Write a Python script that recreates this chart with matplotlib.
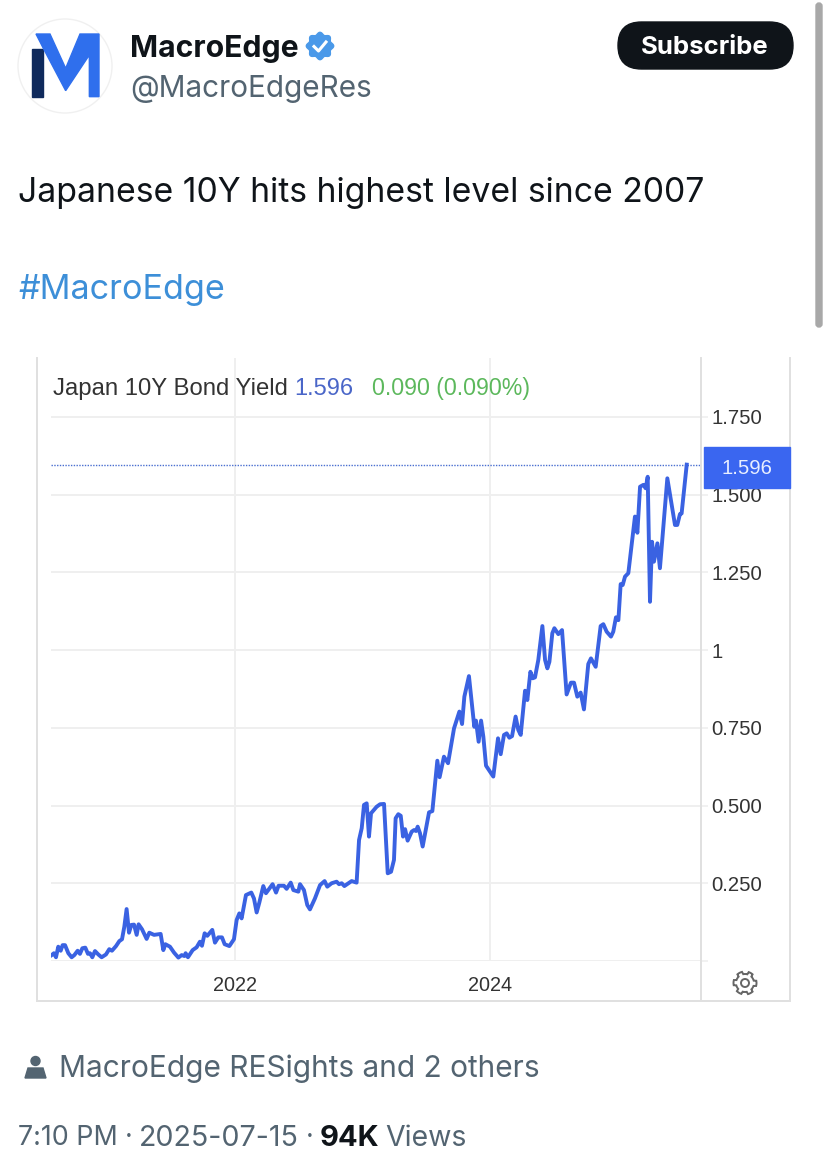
import numpy as np
import matplotlib
matplotlib.use('Agg')
import matplotlib.pyplot as plt
from matplotlib.patches import Circle, Polygon, Rectangle, FancyBboxPatch

# values (decimal year, yield in %)
years = [2020.562, 2020.580, 2020.596, 2020.614, 2020.633, 2020.648, 2020.667, 2020.693, 2020.719, 2020.740,
         2020.766, 2020.784, 2020.803, 2020.826, 2020.847, 2020.863, 2020.881, 2020.902, 2020.928, 2020.954,
         2020.988, 2021.014, 2021.035, 2021.067, 2021.093, 2021.114, 2021.132, 2021.150, 2021.169, 2021.187,
         2021.208, 2021.229, 2021.244, 2021.271, 2021.307, 2021.328, 2021.365, 2021.417, 2021.438, 2021.454,
         2021.490, 2021.522, 2021.556, 2021.582, 2021.603, 2021.613, 2021.631, 2021.668, 2021.699, 2021.725,
         2021.741, 2021.762, 2021.783, 2021.822, 2021.843, 2021.869, 2021.898, 2021.919, 2021.956, 2021.992,
         2022.013, 2022.034, 2022.052, 2022.086, 2022.128, 2022.149, 2022.170, 2022.191, 2022.222, 2022.243,
         2022.295, 2022.322, 2022.342, 2022.384, 2022.405, 2022.437, 2022.458, 2022.497, 2022.510, 2022.541,
         2022.567, 2022.588, 2022.627, 2022.667, 2022.703, 2022.724, 2022.758, 2022.797, 2022.816, 2022.837,
         2022.858, 2022.915, 2022.954, 2022.973, 2022.994, 2023.012, 2023.033, 2023.051, 2023.067, 2023.111,
         2023.138, 2023.169, 2023.198, 2023.224, 2023.247, 2023.260, 2023.281, 2023.300, 2023.318, 2023.334,
         2023.354, 2023.386, 2023.404, 2023.420, 2023.433, 2023.451, 2023.472, 2023.522, 2023.548, 2023.587,
         2023.605, 2023.639, 2023.671, 2023.718, 2023.760, 2023.781, 2023.799, 2023.835, 2023.877, 2023.890,
         2023.911, 2023.930, 2023.948, 2023.969, 2024.026, 2024.063, 2024.084, 2024.110, 2024.131, 2024.152,
         2024.173, 2024.201, 2024.222, 2024.241, 2024.275, 2024.293, 2024.317, 2024.335, 2024.353, 2024.379,
         2024.411, 2024.432, 2024.450, 2024.466, 2024.489, 2024.505, 2024.536, 2024.565, 2024.601, 2024.635,
         2024.659, 2024.685, 2024.711, 2024.737, 2024.771, 2024.792, 2024.829, 2024.868, 2024.889, 2024.915,
         2024.949, 2024.967, 2024.988, 2025.007, 2025.025, 2025.041, 2025.059, 2025.085, 2025.137, 2025.156,
         2025.177, 2025.203, 2025.221, 2025.237, 2025.255, 2025.271, 2025.286, 2025.313, 2025.333, 2025.391,
         2025.451, 2025.469, 2025.490, 2025.503, 2025.543]
yields = [.019, .025, .012, .046, .033, .051, .051, .025, .012, .019,
          .033, .023, .041, .043, .023, .025, .012, .032, .021, .012,
          .021, .038, .033, .048, .064, .070, .110, .167, .091, .116,
          .117, .084, .118, .102, .071, .091, .084, .087, .035, .054,
          .046, .027, .011, .019, .016, .025, .012, .035, .044, .062,
          .049, .089, .081, .100, .059, .076, .076, .054, .048, .070,
          .132, .153, .137, .212, .220, .201, .156, .188, .241, .218,
          .247, .220, .242, .242, .232, .252, .228, .223, .247, .228,
          .180, .166, .201, .244, .257, .239, .250, .255, .247, .250,
          .241, .257, .252, .389, .427, .502, .507, .400, .475, .496,
          .504, .505, .282, .287, .325, .459, .472, .467, .400, .424,
          .387, .416, .421, .418, .432, .411, .368, .478, .482, .644,
          .591, .657, .636, .748, .802, .762, .850, .916, .753, .773,
          .705, .773, .721, .628, .593, .716, .665, .727, .732, .718,
          .723, .786, .743, .727, .869, .839, .930, .909, .912, .968,
          1.077, .968, .941, .962, 1.054, 1.070, 1.051, 1.064, .857, .895,
          .895, .850, .863, .809, .955, .973, .946, 1.077, 1.083, 1.059,
          1.043, 1.059, 1.105, 1.096, 1.212, 1.209, 1.236, 1.247, 1.429, 1.377,
          1.525, 1.531, 1.520, 1.557, 1.155, 1.348, 1.284, 1.343, 1.263, 1.552,
          1.402, 1.402, 1.437, 1.439, 1.596]
last_value = 1.596
y_ticks = [0, 0.25, 0.5, 0.75, 1, 1.25, 1.5, 1.75]
y_labels = ['', '0.250', '0.500', '0.750', '1', '1.250', '1.500', '1.750']
x_ticks = [2022, 2024]

W, H = 828, 1163
INK = '#0f1419'
GREY = '#536471'
LINE = '#3a62e2'
GRID = '#efefef'
FRAME = '#e0e0e0'
plt.rcParams['font.family'] = ['Inter', 'DejaVu Sans']

fig = plt.figure(figsize=(W / 100, H / 100), dpi=100, facecolor='white')

# chart, placed in pixels of the screenshot
L, R, T, B = 51, 701, 358, 961
ax = fig.add_axes([L / W, 1 - B / H, (R - L) / W, (B - T) / H], zorder=1)
ax.set_xlim(2020.557, 2020.557 + (R - L) / 127.5)
ax.set_ylim(0, (B - T) / 311)
ax.plot(years, yields, color=LINE, linewidth=2.8, solid_joinstyle='round', zorder=3)
ax.axhline(last_value, color='#4a6fd0', linewidth=1.0, linestyle=(0, (1, 1)), zorder=2)
ax.grid(True, color=GRID, linewidth=1.4)
ax.set_axisbelow(True)
ax.set_xticks(x_ticks)
ax.set_xticklabels([str(v) for v in x_ticks], family='Liberation Sans', fontsize=14.3, color='#333333')
ax.set_yticks(y_ticks)
ax.set_yticklabels(y_labels, family='Liberation Sans', fontsize=14.6, color='#333333')
ax.yaxis.tick_right()
ax.tick_params(axis='x', length=0, pad=11)
ax.tick_params(axis='y', length=5, width=1.2, color=GRID, pad=2.5)
for s in ax.spines.values():
    s.set_visible(False)

# everything around the chart, y runs down like the screenshot
top = fig.add_axes([0, 0, 1, 1], zorder=2)
top.set_xlim(0, W)
top.set_ylim(H, 0)
top.axis('off')
top.patch.set_alpha(0)

for xs, ys in [([37, 37], [358, 1001]), ([790, 790], [358, 1001]), ([701, 701], [358, 1001]), ([37, 790], [1001, 1001])]:
    top.plot(xs, ys, color=FRAME, linewidth=1.4, zorder=1)

top.add_patch(Rectangle((704, 447), 86, 41, color='#3a66f0', zorder=3))
top.text(747, 468, '1.596', color='#e8eeff', fontsize=14.6, family='Liberation Sans', ha='center', va='center', zorder=4)

top.text(53, 389, 'Japan 10Y Bond Yield', color='#333333', fontsize=17.2, family='Liberation Sans', va='center')
top.text(294, 389, '1.596', color='#4a66c8', fontsize=17, family='Liberation Sans', va='center')
top.text(372, 389, '0.090 (0.090%)', color='#5cb85c', fontsize=16.7, family='Liberation Sans', va='center')

# gear icon
ang = np.linspace(0, 2 * np.pi, 97)
rad = 11.5 - 2.5 * (np.cos(6 * ang) < 0)
top.add_patch(Polygon(np.c_[745 + rad * np.cos(ang), 983 + rad * np.sin(ang)], fill=False, edgecolor='#666666', linewidth=1.4))
top.add_patch(Circle((745, 983), 4, fill=False, edgecolor='#666666', linewidth=1.4))

# avatar
top.add_patch(Circle((65, 66), 47, facecolor='white', edgecolor='#f0f0f0', linewidth=1))
top.add_patch(Polygon(np.array([(97, 147), (130, 147), (130, 290), (97, 290)]) / 3, color='#0f2a5c'))
top.add_patch(Polygon(np.array([(108, 102), (150, 102), (197, 205), (240, 102), (297, 102), (297, 290), (268, 290),
                                (268, 165), (197, 272), (130, 145)]) / 3, color='#2f6fed'))

# header
top.text(130, 49, 'MacroEdge', color=INK, fontsize=21.7, fontweight='bold', va='center')
ang = np.linspace(0, 2 * np.pi, 121)
rad = 12.5 + 1.2 * np.cos(8 * ang)
top.add_patch(Polygon(np.c_[320 + rad * np.cos(ang), 46 + rad * np.sin(ang)], color='#4a99e9'))
top.plot([314, 318.5, 326], [46.5, 51, 42], color='white', linewidth=2.2)
top.text(130, 89, '@MacroEdgeRes', color=GREY, fontsize=21.4, va='center')

top.add_patch(FancyBboxPatch((618, 22), 175, 47, boxstyle='round,pad=0,rounding_size=23.5', color=INK))
top.text(705, 48, 'Subscribe', color='white', fontsize=18.5, fontweight='bold', ha='center', va='center')

top.add_patch(FancyBboxPatch((816, 3), 6, 324, boxstyle='round,pad=0,rounding_size=3', color='#a8a8a8'))

top.text(18, 193, 'Japanese 10Y hits highest level since 2007', color=INK, fontsize=24.3, va='center')
top.text(18, 290, '#MacroEdge', color='#3d8fd8', fontsize=24.6, va='center')

# footer
top.add_patch(Circle((35.5, 1061), 4.5, color=GREY))
top.add_patch(Polygon([(25, 1078), (28, 1068), (43, 1068), (46, 1078)], color=GREY))
top.text(59, 1069, 'MacroEdge RESights and 2 others', color=GREY, fontsize=21.5, va='center')
top.text(18, 1138, '7:10 PM', color=GREY, fontsize=19.3, va='center')
top.text(125, 1138, '·', color=GREY, fontsize=19.3, va='center')
top.text(139, 1138, '2025-07-15', color=GREY, fontsize=20.6, va='center')
top.text(306, 1138, '·', color=GREY, fontsize=19.3, va='center')
top.text(320, 1138, '94K', color=INK, fontsize=21, fontweight='bold', va='center')
top.text(385, 1138, 'Views', color=GREY, fontsize=20.5, va='center')

fig.savefig('out.png', dpi=100)
